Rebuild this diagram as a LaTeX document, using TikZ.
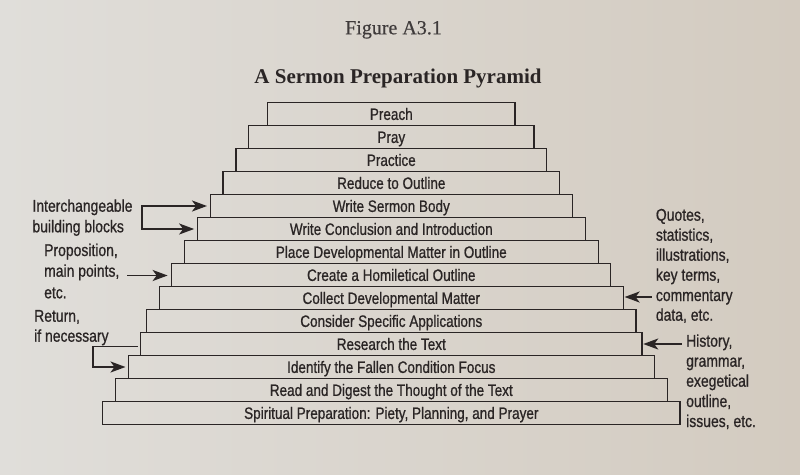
\documentclass[tikz,border=0pt]{standalone}
\usepackage{fontspec}
\setmainfont{Liberation Serif}
\newfontfamily\condsans[FakeStretch=0.82,FakeBold=0.8]{Liberation Sans}
\newfontfamily\titleserif[FakeBold=0.4]{Liberation Serif}
\usetikzlibrary{arrows.meta}
\definecolor{paperL}{HTML}{E0DEDA}
\definecolor{paperR}{HTML}{D3CBC0}
\definecolor{ink}{HTML}{2A2525}
\begin{document}
\begin{tikzpicture}[x=1pt,y=-1pt,
  blk/.style={draw=ink, line width=1.3pt, minimum height=23pt, inner sep=0pt,
    text height=11.8pt, text depth=0pt, font=\condsans\fontsize{16.5}{19}\selectfont, text=ink},
  note/.style={anchor=base west, inner sep=0pt, font=\condsans\fontsize{17}{20}\selectfont, text=ink},
  arr/.style={draw=ink, line width=1.9pt, line cap=rect, -{Stealth[length=15pt,width=11pt,inset=4pt]}},
  ]
\shade[left color=paperL, right color=paperR] (0,0) rectangle (800,474);
\useasboundingbox (0,0) rectangle (800,474);

% titles
\node[font=\titleserif\fontsize{20}{24}\selectfont, text=ink!90, anchor=base, inner sep=0pt] (fig) at (393.5,34.3) {Figure A3.1};
\node[font=\bfseries\fontsize{21}{25}\selectfont, text=ink, anchor=base, inner sep=0pt] (ttl) at (398,83.3) {A Sermon Preparation Pyramid};

% pyramid blocks
\node[blk, minimum width=247.3pt] (b0) at (391.3,114) {Preach};
\node[blk, minimum width=285.3pt] (b1) at (391.3,137) {Pray};
\node[blk, minimum width=310.7pt] (b2) at (391.3,160) {Practice};
\node[blk, minimum width=336.7pt] (b3) at (391.3,183) {Reduce to Outline};
\node[blk, minimum width=362.3pt] (b4) at (391.3,206) {Write Sermon Body};
\node[blk, minimum width=388.0pt] (b5) at (391.3,229) {Write Conclusion and Introduction};
\node[blk, minimum width=414.3pt] (b6) at (391.3,252) {Place Developmental Matter in Outline};
\node[blk, minimum width=439.0pt] (b7) at (391.3,275) {Create a Homiletical Outline};
\node[blk, minimum width=464.3pt] (b8) at (391.3,298) {Collect Developmental Matter};
\node[blk, minimum width=489.3pt] (b9) at (391.3,321) {Consider Specific Applications};
\node[blk, minimum width=501.6pt] (b10) at (391.3,344) {Research the Text};
\node[blk, minimum width=526.3pt] (b11) at (391.3,367) {Identify the Fallen Condition Focus};
\node[blk, minimum width=552.0pt] (b12) at (391.3,390) {Read and Digest the Thought of the Text};
\node[blk, minimum width=577.3pt] (b13) at (391.3,413) {Spiritual Preparation: Piety, Planning, and Prayer};

% left notes
\node[note] (n1) at (32.3,211.7) {Interchangeable};
\node[note] (n2) at (32.3,232.3) {building blocks};
\node[note] (n3) at (44,256) {Proposition,};
\node[note] (n4) at (44,276.7) {main points,};
\node[note] (n5) at (44,298.3) {etc.};
\node[note] (n6) at (34,321.7) {Return,};
\node[note] (n7) at (34,341.7) {if necessary};

% right notes
\node[note] (r1) at (655.7,220.7) {Quotes,};
\node[note] (r2) at (655.7,240.7) {statistics,};
\node[note] (r3) at (655.7,260.7) {illustrations,};
\node[note] (r4) at (655.7,280.7) {key terms,};
\node[note] (r5) at (655.7,301) {commentary};
\node[note] (r6) at (655.7,320.7) {data, etc.};
\node[note] (h1) at (686,346.7) {History,};
\node[note] (h2) at (686,366.7) {grammar,};
\node[note] (h3) at (686,386.7) {exegetical};
\node[note] (h4) at (686,407) {outline,};
\node[note] (h5) at (686,427) {issues, etc.};

% connectors
\coordinate (bx) at (141.7,0);
\coordinate (pa) at (127.5,275.5);
\coordinate (ra) at (136.7,346.5);
\coordinate (rx) at (93.3,0);
\coordinate (ca) at (651,297);
\coordinate (ha) at (681,344);

\draw[arr, shorten >=2.5pt] (bx |- b5.west) |- (b4.west);
\draw[arr, shorten >=2.5pt] (bx |- b5.west) -- (b5.west);
\draw[arr, shorten >=3.5pt] (pa) -- (pa -| b7.west);
\draw[arr, shorten >=2pt] (ra) -- (rx |- ra) |- (b11.west);
\draw[arr, shorten >=0.5pt] (ca) -- (ca -| b8.east);
\draw[arr, shorten >=0.5pt] (ha) -- (b10.east);
\end{tikzpicture}
\end{document}
